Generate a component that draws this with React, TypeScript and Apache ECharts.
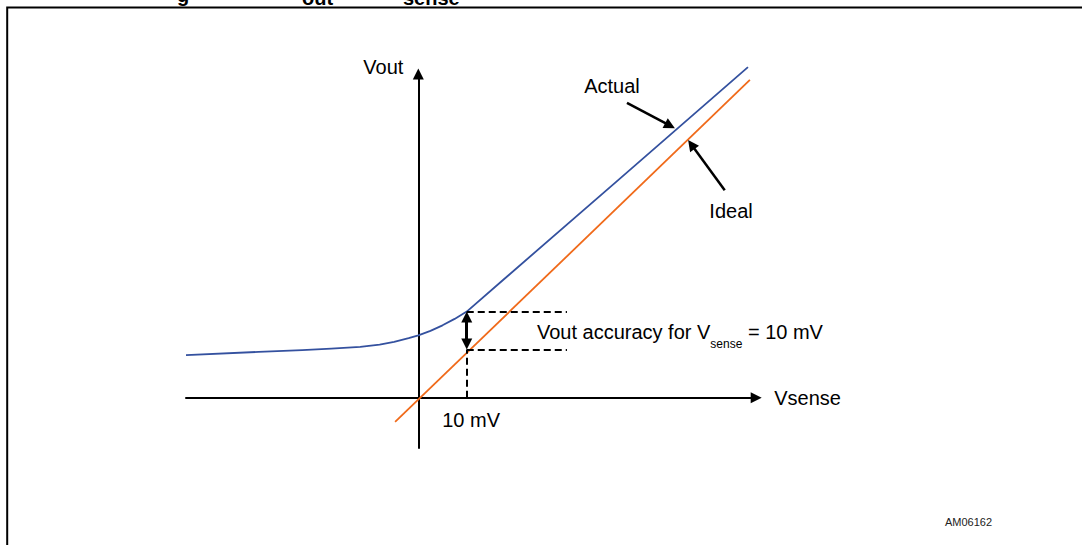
import React, { useEffect, useRef } from "react";
import * as echarts from "echarts";

// Actual (blue) transfer curve (Vsense in mV, Vout in same scaled units)
const actualX = [-48, -33, -24, -18, -12, -8, -5, -2, 0, 2.5, 5, 7.5, 10, 17.5, 41.7, 68.1];
const actualY = [9.3, 10.0, 10.4, 10.7, 11.1, 11.6, 12.2, 13.0, 13.6, 14.6, 15.8, 17.2, 18.8, 25.7, 47.9, 72.2];
// Ideal (orange) line
const idealX = [-4.8, 68.5];
const idealY = [-5.3, 69.4];
// Accuracy annotation at Vsense = 10 mV
const senseMv = 10;
const accuracyLow = 10.5;
const accuracyHigh = 18.7;
const dashEndX = 30.7;
const arrowLow = 11.7;
const arrowHigh = 17.6;
// Text labels (centre positions in data units)
const labelNames = ["Actual", "Ideal", "10 mV"];
const labelX = [40, 64.6, 10.9];
const labelY = [68.1, 40.8, -4.8];
const accuracyLabelX = 24.5;
const accuracyLabelY = 14.0;
// Pointer arrows for Actual / Ideal
const pointerFromX = [43.1, 63.3];
const pointerFromY = [64.4, 45.3];
const pointerToX = [52.0, 56.4];
const pointerToY = [59.4, 55.3];

const FONT = "'Liberation Sans', Arial, sans-serif";
const BLUE = "#34519F";
const ORANGE = "#F06A1A";
const INK = "#000";

export default function App() {
  const ref = useRef<HTMLDivElement>(null);

  useEffect(() => {
    if (!ref.current) return;
    const chart = echarts.init(ref.current, undefined, { renderer: "svg" });

    const dashStyle = { color: "#000", width: 2, type: [7, 4] as any };

    const labelBase = {
      show: true,
      position: "inside",
      color: INK,
      opacity: 1,
      fontFamily: FONT,
      textBorderWidth: 0,
      textShadowBlur: 0,
    };

    const option: any = {
      animation: false,
      backgroundColor: "#fff",
      textStyle: { fontFamily: FONT },
      grid: { left: 186, top: 74, width: 570.2, height: 374 },
      xAxis: {
        type: "value",
        min: -48,
        max: 69.8,
        name: "Vsense",
        nameLocation: "end",
        nameGap: 18,
        nameTextStyle: { fontSize: 20, color: INK, fontFamily: FONT },
        axisLine: {
          onZero: true,
          symbol: ["none", "triangle"],
          symbolSize: [11, 11],
          lineStyle: { color: "#000", width: 2 },
        },
        axisTick: { show: false },
        axisLabel: { show: false },
        splitLine: { show: false },
      },
      yAxis: {
        type: "value",
        min: -11,
        max: 70.7,
        name: "Vout",
        nameLocation: "end",
        nameGap: 7,
        nameTextStyle: {
          fontSize: 20,
          color: INK,
          fontFamily: FONT,
          align: "right",
          verticalAlign: "middle",
          padding: [0, 15, 0, 0],
        },
        axisLine: {
          onZero: true,
          symbol: ["none", "triangle"],
          symbolSize: [11, 11],
          lineStyle: { color: "#000", width: 2 },
        },
        axisTick: { show: false },
        axisLabel: { show: false },
        splitLine: { show: false },
      },
      series: [
        {
          name: "Ideal",
          type: "line",
          data: idealX.map((x, i) => [x, idealY[i]]),
          showSymbol: false,
          symbol: "none",
          clip: false,
          lineStyle: { color: ORANGE, width: 1.8 },
          z: 3,
        },
        {
          name: "Actual",
          type: "line",
          data: actualX.map((x, i) => [x, actualY[i]]),
          showSymbol: false,
          symbol: "none",
          smooth: false,
          clip: false,
          lineStyle: { color: BLUE, width: 1.8, join: "round" },
          z: 3,
        },
        {
          name: "dashes",
          type: "line",
          data: [],
          markLine: {
            silent: true,
            symbol: ["none", "none"],
            label: { show: false },
            lineStyle: dashStyle,
            data: [
              [{ coord: [senseMv, accuracyHigh] }, { coord: [dashEndX, accuracyHigh] }],
              [{ coord: [senseMv, accuracyLow] }, { coord: [dashEndX, accuracyLow] }],
              [{ coord: [senseMv, 0] }, { coord: [senseMv, accuracyLow] }],
            ],
          },
        },
        {
          name: "accuracyArrow",
          type: "line",
          data: [],
          markLine: {
            silent: true,
            symbol: ["triangle", "triangle"],
            symbolSize: 11,
            label: { show: false },
            lineStyle: { color: "#000", width: 3, type: "solid" },
            data: [[{ coord: [senseMv, arrowLow] }, { coord: [senseMv, arrowHigh] }]],
          },
          z: 4,
        },
        {
          name: "pointers",
          type: "line",
          data: [],
          markLine: {
            silent: true,
            symbol: ["none", "triangle"],
            symbolSize: 11,
            label: { show: false },
            lineStyle: { color: "#000", width: 2.5, type: "solid" },
            data: pointerFromX.map((x, i) => [
              { coord: [x, pointerFromY[i]] },
              { coord: [pointerToX[i], pointerToY[i]] },
            ]),
          },
          z: 4,
        },
        {
          name: "labels",
          type: "scatter",
          symbolSize: 0,
          clip: false,
          itemStyle: { color: INK },
          label: { ...labelBase, formatter: "{b}", fontSize: 20 },
          data: labelNames.map((n, i) => ({ name: n, value: [labelX[i], labelY[i]] })),
          z: 5,
        },
        {
          name: "accuracyLabel",
          type: "scatter",
          symbolSize: 0,
          clip: false,
          itemStyle: { color: INK },
          label: {
            ...labelBase,
            align: "left",
            verticalAlign: "middle",
            formatter: "{m|Vout accuracy for V}{s|sense}{m| = 10 mV}",
            rich: {
              m: { fontSize: 20, lineHeight: 24, verticalAlign: "top", color: INK, fontFamily: FONT },
              s: {
                fontSize: 12,
                lineHeight: 12,
                verticalAlign: "top",
                padding: [16, 0, 0, 0],
                color: INK,
                fontFamily: FONT,
              },
            },
          },
          data: [{ name: "accuracy", value: [accuracyLabelX, accuracyLabelY] }],
          z: 5,
        },
      ],
      graphic: [
        {
          type: "rect",
          silent: true,
          shape: { x: 7.2, y: 7.5, width: 1100, height: 600 },
          style: { fill: "none", stroke: "#000", lineWidth: 2 },
        },
        {
          type: "text",
          silent: true,
          x: 177,
          y: -5.5,
          style: { text: "g", fontSize: 20, fontWeight: "bold", fontFamily: FONT, fill: "#000", verticalAlign: "middle" },
        },
        {
          type: "text",
          silent: true,
          x: 302,
          y: -2,
          style: { text: "out", fontSize: 20, fontWeight: "bold", fontFamily: FONT, fill: "#000", verticalAlign: "middle" },
        },
        {
          type: "text",
          silent: true,
          x: 403,
          y: -2,
          style: { text: "sense", fontSize: 20, fontWeight: "bold", fontFamily: FONT, fill: "#000", verticalAlign: "middle" },
        },
        {
          type: "text",
          silent: true,
          x: 945,
          y: 522,
          style: { text: "AM06162", fontSize: 11, fontFamily: FONT, fill: "#222", verticalAlign: "middle" },
        },
      ],
    };

    chart.setOption(option);
    return () => chart.dispose();
  }, []);

  return (
    <div
      ref={ref}
      style={{ position: "fixed", left: 0, top: 0, width: 1082, height: 545, background: "#fff" }}
    />
  );
}
